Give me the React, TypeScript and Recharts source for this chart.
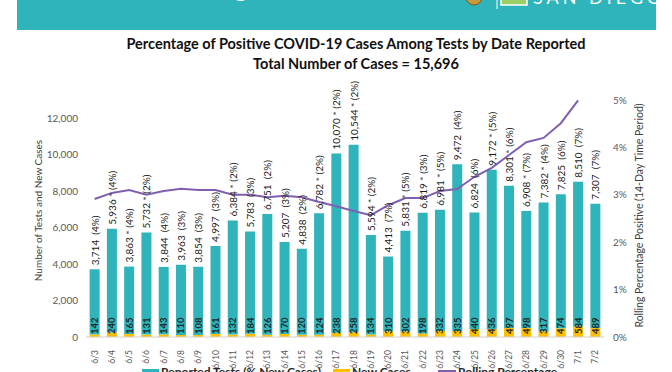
import {
  ComposedChart,
  Bar,
  Line,
  XAxis,
  YAxis,
  LabelList,
} from 'recharts';

const dates = [
  '6/3', '6/4', '6/5', '6/6', '6/7', '6/8', '6/9', '6/10', '6/11', '6/12',
  '6/13', '6/14', '6/15', '6/16', '6/17', '6/18', '6/19', '6/20', '6/21', '6/22',
  '6/23', '6/24', '6/25', '6/26', '6/27', '6/28', '6/29', '6/30', '7/1', '7/2',
];

const reportedTests = [
  3714, 5936, 3863, 5732, 3844, 3963, 3854, 4997, 6384, 5783,
  6751, 5207, 4838, 6782, 10070, 10544, 5594, 4413, 5831, 6819,
  6981, 9472, 6824, 9172, 8301, 6908, 7382, 7825, 8510, 7307,
];

const newCases = [
  142, 240, 165, 131, 143, 110, 108, 161, 132, 184,
  126, 170, 120, 124, 238, 258, 134, 310, 302, 198,
  332, 335, 440, 436, 497, 498, 317, 474, 584, 489,
];

const pctNew = [
  4, 4, 4, 2, 4, 3, 3, 3, 2, 3,
  2, 3, 2, 2, 2, 2, 2, 7, 5, 3,
  5, 4, 6, 5, 6, 7, 4, 6, 7, 7,
];

const flagged = [
  false, true, true, true, false, false, false, false, true, false,
  false, false, false, true, true, true, true, false, true, true,
  true, false, false, true, true, true, true, false, false, false,
];

const rollingPct = [
  2.91, 3.04, 3.1, 3.0, 3.08, 3.13, 3.1, 3.1, 3.0, 3.0,
  2.95, 2.98, 2.95, 2.85, 2.76, 2.66, 2.57, 2.78, 2.93, 2.93,
  3.08, 3.12, 3.38, 3.57, 3.84, 4.11, 4.2, 4.51, 4.99, null,
];

const leftTicks = [0, 2000, 4000, 6000, 8000, 10000, 12000];
const rightTicks = [0, 1, 2, 3, 4, 5];

const TEAL = '#2fb4bb';
const GOLD = '#ffc000';
const PURPLE = '#7f60b0';
const FONT = 'Lato, "Open Sans", sans-serif';

const data = dates.map((d, i) => ({
  date: d,
  newCases: newCases[i],
  rest: reportedTests[i] - newCases[i],
  topLabel:
    reportedTests[i].toLocaleString('en-US') +
    (flagged[i] ? ' * ' : '  ') +
    `(${pctNew[i]}%)`,
  rolling: rollingPct[i],
}));

function TopLabel(props: any) {
  const { x, y, width, value } = props;
  const cx = x + width / 2;
  const ty = y - 4;
  return (
    <text
      x={cx}
      y={ty}
      transform={`rotate(-90, ${cx}, ${ty})`}
      textAnchor="start"
      dominantBaseline="central"
      fontSize={10}
      fill="#1a1a1a"
      fontFamily={FONT}
      style={{ whiteSpace: 'pre' }}
    >
      {value}
    </text>
  );
}

function CaseLabel(props: any) {
  const { x, y, width, height, value } = props;
  const cx = x + width / 2;
  const ty = y + height - 3;
  return (
    <text
      x={cx}
      y={ty}
      transform={`rotate(-90, ${cx}, ${ty})`}
      textAnchor="start"
      dominantBaseline="central"
      fontSize={9.5}
      fontWeight={700}
      fill="#1f2a2a"
      fontFamily={FONT}
    >
      {value}
    </text>
  );
}

function DateTick(props: any) {
  const { x, y, payload } = props;
  const ty = y + 5;
  return (
    <text
      x={x}
      y={ty}
      transform={`rotate(-90, ${x}, ${ty})`}
      textAnchor="end"
      dominantBaseline="central"
      fontSize={8.5}
      fill="#595959"
      fontFamily={FONT}
    >
      {payload.value}
    </text>
  );
}

// legend sits at the very bottom edge, half cut like the source image
function LegendRow() {
  const label = {
    position: 'absolute',
    top: 365,
    fontFamily: FONT,
    fontSize: 12,
    fontWeight: 700,
    color: '#262626',
    whiteSpace: 'nowrap',
    lineHeight: '14px',
  } as const;
  return (
    <>
      <div style={{ position: 'absolute', left: 142, top: 369, width: 17, height: 8, background: TEAL }} />
      <div style={{ ...label, left: 161 }}>Reported Tests (% New Cases)</div>
      <div style={{ position: 'absolute', left: 333, top: 369, width: 17, height: 8, background: GOLD }} />
      <div style={{ ...label, left: 352 }}>New Cases</div>
      <div style={{ position: 'absolute', left: 438, top: 370, width: 18, height: 2, background: PURPLE }} />
      <div style={{ ...label, left: 458 }}>Rolling Percentage</div>
    </>
  );
}

export default function App() {
  return (
    <div
      style={{
        position: 'absolute',
        left: 0,
        top: 0,
        width: 672,
        height: 372,
        background: '#fff',
        overflow: 'hidden',
        fontFamily: FONT,
      }}
    >
      <svg width={672} height={32} style={{ position: 'absolute', left: 0, top: 0 }}>
        <rect x={17} y={0} width={639} height={30} fill={TEAL} />
        <text x={248} y={-3} textAnchor="end" fontSize={26} fontWeight={700} fill="#fff" fontFamily={FONT}>
          COVID-19 Testing
        </text>
        <circle cx={474} cy={-3} r={8} fill="#c79a3a" stroke="#7a5a1a" strokeWidth={1} />
        <line x1={497} y1={0} x2={497} y2={9} stroke="#fff" strokeWidth={1} />
        <rect x={501} y={-6} width={26} height={11} fill="#9ccf66" stroke="#fff" strokeWidth={1.5} />
        <text x={533} y={4} fontSize={18} fill="#fff" letterSpacing={4} fontFamily={FONT}>
          SAN DIEGO
        </text>
      </svg>

      <div
        style={{
          position: 'absolute',
          top: 34,
          left: 0,
          width: 712,
          textAlign: 'center',
          fontWeight: 700,
          fontSize: 14.5,
          lineHeight: '20px',
          color: '#111',
        }}
      >
        Percentage of Positive COVID-19 Cases Among Tests by Date Reported
        <br />
        Total Number of Cases = 15,696
      </div>

      <div style={{ position: 'absolute', left: 0, top: 0 }}>
        <ComposedChart
          width={672}
          height={372}
          data={data}
          barCategoryGap="21%"
          margin={{ top: 100, right: 18, bottom: 5, left: 36 }}
        >
          <XAxis
            dataKey="date"
            interval={0}
            height={30}
            tick={<DateTick />}
            tickLine={false}
            axisLine={{ stroke: '#d0d0d0' }}
          />
          <YAxis
            yAxisId="left"
            domain={[0, 13000]}
            ticks={leftTicks}
            width={50}
            tickLine={false}
            axisLine={false}
            tickMargin={2}
            tickFormatter={(v: number) => v.toLocaleString('en-US')}
            tick={{ fontSize: 10, fill: '#595959', fontFamily: FONT }}
            label={{
              value: 'Number of Tests and New Cases',
              angle: -90,
              position: 'center',
              dx: -23,
              dy: -8,
              style: { fontSize: 10, fill: '#404040', fontFamily: FONT },
            }}
          />
          <YAxis
            yAxisId="right"
            orientation="right"
            domain={[0, 5]}
            ticks={rightTicks}
            width={50}
            tickLine={false}
            axisLine={false}
            tickMargin={3}
            tickFormatter={(v: number) => `${v}%`}
            tick={{ fontSize: 10, fill: '#595959', fontFamily: FONT }}
            label={{
              value: 'Rolling Percentage Positive (14-Day Time Period)',
              angle: -90,
              position: 'center',
              dx: 10,
              dy: -3,
              style: { fontSize: 10.5, fill: '#404040', fontFamily: FONT },
            }}
          />
          <Bar
            yAxisId="left"
            dataKey="newCases"
            stackId="t"
            fill={GOLD}
            isAnimationActive={false}
          >
            <LabelList dataKey="newCases" content={<CaseLabel />} />
          </Bar>
          <Bar
            yAxisId="left"
            dataKey="rest"
            stackId="t"
            fill={TEAL}
            isAnimationActive={false}
          >
            <LabelList dataKey="topLabel" content={<TopLabel />} />
          </Bar>
          <Line
            yAxisId="right"
            dataKey="rolling"
            type="linear"
            stroke={PURPLE}
            strokeWidth={2}
            dot={false}
            isAnimationActive={false}
          />
        </ComposedChart>
      </div>

      <LegendRow />
    </div>
  );
}
